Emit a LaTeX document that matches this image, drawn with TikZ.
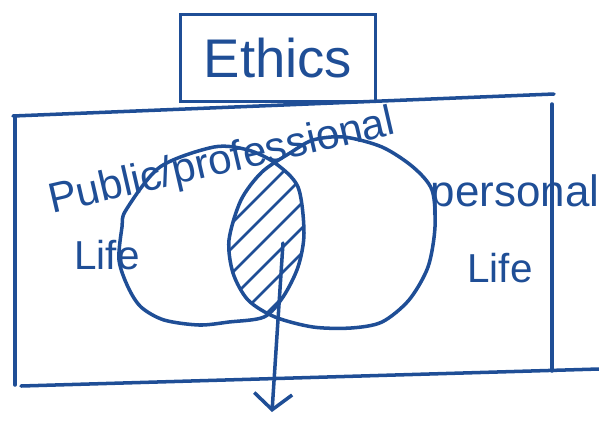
\documentclass[tikz,border=0pt]{standalone}
\usepackage{fontspec}
\setmainfont{Liberation Sans}
\usetikzlibrary{arrows.meta}
\definecolor{inkBlue}{HTML}{1F4E96}

\begin{document}
\begin{tikzpicture}[
    x=0.02cm, y=-0.02cm,
    pen/.style={draw=inkBlue, line width=2pt, line cap=round, line join=round},
    titlebox/.style={draw=inkBlue, line width=2pt, minimum width=3.9cm, minimum height=1.74cm, inner sep=0pt, text=inkBlue, font=\fontsize{31}{34}\selectfont},
    lifetext/.style={text=inkBlue, inner sep=0pt, font=\fontsize{23}{26}\selectfont},
    hatch/.style={draw=inkBlue, line width=1.6pt},
    arrowline/.style={pen, -{Straight Barb[length=3.2mm, width=7.6mm, line width=2pt]}}
  ]
    \useasboundingbox (0,0) rectangle (599,427);

    % Title box
    \node[titlebox] (ethics) at (278,58) {Ethics};

    % Outer frame
    \draw[pen] (13,116) -- (554,94);
    \draw[pen] (15,116) -- (15,385);
    \draw[pen] (21,386) -- (599,369);
    \draw[pen] (552,104) -- (552,371);

    % Shaded overlap
    \begin{scope}
      \clip plot[smooth cycle] coordinates {(126,210) (160,167) (214,147) (248,150) (275,163) (298,187) (304,233) (298,267) (283,297) (264,317) (229,322) (199,325) (164,320) (141,307) (128,287) (119,260) (122,227)};
      \clip plot[smooth cycle] coordinates {(290,153) (313,140) (344,137) (382,147) (413,167) (432,190) (435,227) (428,267) (409,300) (382,322) (351,328) (313,327) (275,317) (248,300) (233,273) (229,240) (241,200) (262,172)};
      \foreach \s in {455,480,...,580}
        \draw[hatch] (\s-250,250) -- ++(120,-120) (\s-250,250) -- ++(-120,120);
    \end{scope}

    % Circles
    \draw[pen] plot[smooth cycle] coordinates {(126,210) (160,167) (214,147) (248,150) (275,163) (298,187) (304,233) (298,267) (283,297) (264,317) (229,322) (199,325) (164,320) (141,307) (128,287) (119,260) (122,227)};
    \draw[pen] plot[smooth cycle] coordinates {(290,153) (313,140) (344,137) (382,147) (413,167) (432,190) (435,227) (428,267) (409,300) (382,322) (351,328) (313,327) (275,317) (248,300) (233,273) (229,240) (241,200) (262,172)};

    % Labels
    \node[lifetext, font=\fontsize{24}{27}\selectfont, rotate=13] (pubprof) at (222,163) {Public/professional};
    \node[lifetext] (publife) at (107,255) {Life};
    \node[lifetext, font=\fontsize{25}{28}\selectfont] (pers) at (515,195) {personal};
    \node[lifetext] (perslife) at (500,268) {Life};

    % Arrow out of the overlap
    \coordinate (common) at (283,243);
    \coordinate (below) at (272,412);
    \draw[arrowline] (common) -- (below);
\end{tikzpicture}
\end{document}
